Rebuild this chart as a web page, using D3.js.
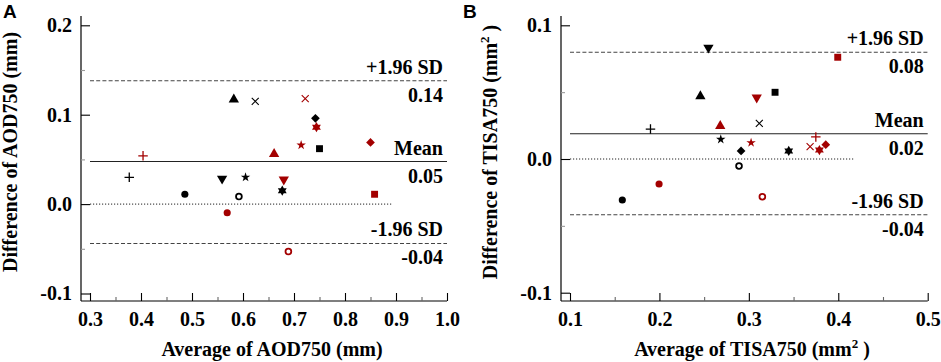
<!DOCTYPE html>
<html>
<head>
<meta charset="utf-8">
<script src="https://cdn.jsdelivr.net/npm/d3@7"></script>
<style>
  body { margin: 0; background: #fff; }
  text { font-family: "Liberation Serif", "Times New Roman", serif; font-weight: bold; fill: #000; }
  .panel-letter { font-family: "Liberation Sans", Arial, sans-serif; font-size: 19px; }
</style>
</head>
<body>
<svg id="chart" width="941" height="362"></svg>
<script>
// marker shape for each subject, and the two groups (black / red)
const shapes = ["circle", "circleOpen", "triangleUp", "triangleDown", "square",
                "diamond", "star", "hexagram", "plus", "cross"];
const groupColors = ["#000000", "#a30000"];

// panel A: AOD750 (mm)
const aodBlackX = [0.486, 0.592, 0.582, 0.559, 0.750, 0.742, 0.605, 0.677, 0.377, 0.624];
const aodBlackY = [0.011, 0.0085, 0.117, 0.0285, 0.062, 0.096, 0.030, 0.015, 0.030, 0.115];
const aodRedX   = [0.569, 0.689, 0.661, 0.680, 0.858, 0.850, 0.714, 0.744, 0.404, 0.722];
const aodRedY   = [-0.0097, -0.053, 0.056, 0.0275, 0.011, 0.069, 0.066, 0.086, 0.054, 0.118];
const aodLines  = [0.138, 0.0476, -0.044];           // +1.96 SD, mean, -1.96 SD
const aodLineLabels = ["0.14", "0.05", "-0.04"];
const aodXTicks = [0.3, 0.4, 0.5, 0.6, 0.7, 0.8, 0.9, 1.0];
const aodYTicks = [-0.1, 0.0, 0.1, 0.2];

// panel B: TISA750 (mm2)
const tisaBlackX = [0.1585, 0.289, 0.2458, 0.2548, 0.3293, 0.2913, 0.2686, 0.3446, 0.190, 0.3117];
const tisaBlackY = [-0.0307, -0.0052, 0.047, 0.0833, 0.0499, 0.006, 0.0147, 0.006, 0.0224, 0.0267];
const tisaRedX   = [0.1996, 0.3151, 0.268, 0.3088, 0.3994, 0.386, 0.3025, 0.3789, 0.3749, 0.3685];
const tisaRedY   = [-0.0187, -0.0282, 0.0247, 0.046, 0.0761, 0.0107, 0.0122, 0.0067, 0.0165, 0.0092];
const tisaLines  = [0.0798, 0.0189, -0.0417];
const tisaLineLabels = ["0.08", "0.02", "-0.04"];
const tisaXTicks = [0.1, 0.2, 0.3, 0.4, 0.5];
const tisaYTicks = [-0.1, 0.0, 0.1];

const lineNames = ["+1.96 SD", "Mean", "-1.96 SD"];

const svg = d3.select("#chart");

// custom marker paths
const hexagram = { draw(ctx, size) {
  const r = Math.sqrt(size) * 0.62;
  [0, Math.PI].forEach(rot => {
    for (let k = 0; k < 3; k++) {
      const a = rot - Math.PI / 2 + k * 2 * Math.PI / 3;
      k === 0 ? ctx.moveTo(r * Math.cos(a), r * Math.sin(a)) : ctx.lineTo(r * Math.cos(a), r * Math.sin(a));
    }
    ctx.closePath();
  });
}};
const plusLine = { draw(ctx, size) {
  const r = Math.sqrt(size) / 2;
  ctx.moveTo(-r, 0); ctx.lineTo(r, 0); ctx.moveTo(0, -r); ctx.lineTo(0, r);
}};
const crossLine = { draw(ctx, size) {
  const r = Math.sqrt(size) / 2;
  ctx.moveTo(-r, -r); ctx.lineTo(r, r); ctx.moveTo(-r, r); ctx.lineTo(r, -r);
}};
const rhombus = { draw(ctx, size) {
  const r = Math.sqrt(size) / 2;
  ctx.moveTo(0, -r); ctx.lineTo(r, 0); ctx.lineTo(0, r); ctx.lineTo(-r, 0); ctx.closePath();
}};

const markerDef = {
  circle:       { type: d3.symbolCircle,   size: 40,  fill: true },
  circleOpen:   { type: d3.symbolCircle,   size: 26,  fill: false, sw: 1.8 },
  triangleUp:   { type: d3.symbolTriangle, size: 46,  fill: true },
  triangleDown: { type: d3.symbolTriangle, size: 46,  fill: true, rot: 180 },
  square:       { type: d3.symbolSquare,   size: 48,  fill: true },
  diamond:      { type: rhombus,           size: 76,  fill: true },
  star:         { type: d3.symbolStar,     size: 28,  fill: true },
  hexagram:     { type: hexagram,          size: 68,  fill: true },
  plus:         { type: plusLine,          size: 90,  fill: false, sw: 1.3 },
  cross:        { type: crossLine,         size: 49,  fill: false, sw: 1.1 }
};

const fmt = d => d.toFixed(1);

function drawPanel(cfg) {
  const g = svg.append("g");
  const x = d3.scaleLinear().domain(cfg.xDomain).range(cfg.xRange);
  const y = d3.scaleLinear().domain(cfg.yDomain).range(cfg.yRange);

  // axis lines (frame starts left of the first x tick)
  g.append("line").attr("x1", cfg.axisX).attr("x2", cfg.axisX)
    .attr("y1", cfg.axisTop).attr("y2", cfg.axisY).attr("stroke", "#000").attr("stroke-width", 1.2);
  g.append("line").attr("x1", cfg.axisX).attr("x2", x.range()[1])
    .attr("y1", cfg.axisY).attr("y2", cfg.axisY).attr("stroke", "#000").attr("stroke-width", 1.2);

  // y axis (ticks point inward)
  const yAx = g.append("g").attr("transform", `translate(${cfg.axisX},0)`)
    .call(d3.axisLeft(y).tickValues(cfg.yTicks).tickFormat(fmt).tickSize(-9).tickPadding(9));
  const yMinor = g.append("g").attr("transform", `translate(${cfg.axisX},0)`)
    .call(d3.axisLeft(y).tickValues(cfg.yTicks.slice(0, -1).map(v => v + cfg.yStep / 2)).tickFormat("").tickSize(-4));
  // x axis
  const xAx = g.append("g").attr("transform", `translate(0,${cfg.axisY})`)
    .call(d3.axisBottom(x).tickValues(cfg.xTicks).tickFormat(fmt).tickSize(-8).tickPadding(11));
  const xMinor = g.append("g").attr("transform", `translate(0,${cfg.axisY})`)
    .call(d3.axisBottom(x).tickValues(cfg.xTicks.slice(0, -1).map(v => v + cfg.xStep / 2)).tickFormat("").tickSize(-4));
  [yAx, yMinor, xAx, xMinor].forEach(a => {
    a.attr("font-family", null);
    a.select(".domain").remove();
    a.selectAll("line").attr("stroke", "#000").attr("stroke-width", 1.1);
    a.selectAll("text").attr("font-size", 20);
  });
  yMinor.selectAll("line").attr("stroke", "#999");
  xMinor.selectAll("line").attr("stroke", "#666");

  // zero line (dotted)
  g.append("line").attr("x1", x(cfg.xDomain[0])).attr("x2", x(cfg.zeroEnd))
    .attr("y1", y(0)).attr("y2", y(0))
    .attr("stroke", "#222").attr("stroke-width", 1).attr("stroke-dasharray", "1.2,1.8");

  // limits of agreement and mean
  const xr = x.range()[1];
  cfg.lines.forEach((v, i) => {
    g.append("line").attr("x1", x(cfg.xDomain[0])).attr("x2", xr)
      .attr("y1", y(v)).attr("y2", y(v))
      .attr("stroke", i === 1 ? "#222" : "#444").attr("stroke-width", 1.1)
      .attr("stroke-dasharray", i === 1 ? null : "4,2.2");
    g.append("text").attr("x", xr - 4).attr("y", y(v) - 7).attr("text-anchor", "end")
      .attr("font-size", 20).text(lineNames[i]);
    g.append("text").attr("x", xr - 4).attr("y", y(v) + 21).attr("text-anchor", "end")
      .attr("font-size", 20).text(cfg.lineLabels[i]);
  });

  // points
  cfg.groups.forEach((grp, gi) => {
    const pts = shapes.map((s, i) => ({ s, x: grp.xs[i], y: grp.ys[i] }));
    g.selectAll(null).data(pts).enter().append("path")
      .attr("transform", d => `translate(${x(d.x)},${y(d.y)}) rotate(${markerDef[d.s].rot || 0})`)
      .attr("d", d => d3.symbol().type(markerDef[d.s].type).size(markerDef[d.s].size)())
      .attr("fill", d => markerDef[d.s].fill ? groupColors[gi] : "none")
      .attr("stroke", d => markerDef[d.s].fill ? "none" : groupColors[gi])
      .attr("stroke-width", d => markerDef[d.s].sw || 0);
  });

  // axis titles
  const xt = g.append("text").attr("x", cfg.xTitleX).attr("y", 356)
    .attr("text-anchor", "middle").attr("font-size", 20);
  xt.append("tspan").text(cfg.xTitle);
  if (cfg.sup) {
    xt.append("tspan").attr("font-size", 13).attr("dy", -8).text("2");
    xt.append("tspan").attr("dy", 8).text(" )");
  }
  const yt = g.append("text")
    .attr("transform", `translate(${cfg.yTitleX},${cfg.yTitleY}) rotate(-90)`)
    .attr("text-anchor", "middle").attr("font-size", 20);
  yt.append("tspan").text(cfg.yTitle);
  if (cfg.sup) {
    yt.append("tspan").attr("font-size", 13).attr("dy", -8).text("2");
    yt.append("tspan").attr("dy", 8).text(" )");
  }

  g.append("text").attr("class", "panel-letter").attr("x", cfg.letterX).attr("y", 18).text(cfg.letter);
}

drawPanel({
  letter: "A", letterX: 3,
  xDomain: [0.3, 1.0], xRange: [90, 447], yDomain: [-0.1, 0.2], yRange: [293.5, 25.3],
  axisX: 81, axisY: 301, axisTop: 16, xStep: 0.1, yStep: 0.1,
  xTicks: aodXTicks, yTicks: aodYTicks, zeroEnd: 0.893,
  lines: aodLines, lineLabels: aodLineLabels,
  groups: [{ xs: aodBlackX, ys: aodBlackY }, { xs: aodRedX, ys: aodRedY }],
  xTitle: "Average of AOD750 (mm)", xTitleX: 272,
  yTitle: "Difference of AOD750 (mm)", yTitleX: 17, yTitleY: 152, sup: false
});

drawPanel({
  letter: "B", letterX: 463,
  xDomain: [0.1, 0.5], xRange: [570, 927.7], yDomain: [-0.1, 0.1], yRange: [292.7, 25.3],
  axisX: 561, axisY: 301, axisTop: 16, xStep: 0.1, yStep: 0.1,
  xTicks: tisaXTicks, yTicks: tisaYTicks, zeroEnd: 0.417,
  lines: tisaLines, lineLabels: tisaLineLabels,
  groups: [{ xs: tisaBlackX, ys: tisaBlackY }, { xs: tisaRedX, ys: tisaRedY }],
  xTitle: "Average of TISA750 (mm", xTitleX: 752,
  yTitle: "Difference of TISA750 (mm", yTitleX: 497, yTitleY: 152, sup: true
});
</script>
</body>
</html>
